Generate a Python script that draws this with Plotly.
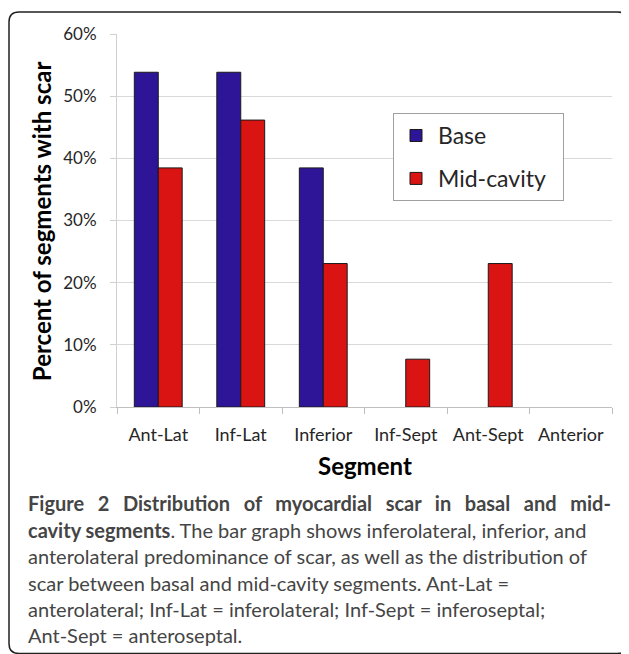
import plotly.graph_objects as go

# ---------------- data ----------------
segments = ["Ant-Lat", "Inf-Lat", "Inferior", "Inf-Sept", "Ant-Sept", "Anterior"]
base_vals = [7/13, 7/13, 5/13, 0, 0, 0]
mid_vals = [5/13, 6/13, 3/13, 1/13, 3/13, 0]
series_names = ["Base", "Mid-cavity"]
y_ticks = [0, 0.1, 0.2, 0.3, 0.4, 0.5, 0.6]

caption_lines = [
    "<b>Figure 2 Distribution of myocardial scar in basal and mid-</b>",
    "<b>cavity segments</b>. The bar graph shows inferolateral, inferior, and",
    "anterolateral predominance of scar, as well as the distribution of",
    "scar between basal and mid-cavity segments. Ant-Lat =",
    "anterolateral; Inf-Lat = inferolateral; Inf-Sept = inferoseptal;",
    "Ant-Sept = anteroseptal.",
]

# ---------------- layout geometry (screen pixels) ----------------
OFF = 8                      # default page margin of the html body
W, H = 629 - OFF, 654 - OFF  # figure size
L, R, T, B = 117, 612, 34, 406.7   # plot area on screen


def px(x):
    return (x - L) / (R - L)


def py(y):
    return (B - y) / (B - T)


FONT = "Lato"
BLUE = "#2E1598"
RED = "#DA1313"


def outline(vals):
    return [1 if v > 0 else 0 for v in vals]


fig = go.Figure()
fig.add_trace(go.Bar(
    x=segments, y=base_vals, name=series_names[0] + "\u2002", legendgroup="a",
    marker=dict(color=BLUE, line=dict(color="#1a1a1a", width=outline(base_vals))),
))
fig.add_trace(go.Bar(
    x=segments, y=mid_vals, name=series_names[1] + "\u2002", legendgroup="b",
    marker=dict(color=RED, line=dict(color="#1a1a1a", width=outline(mid_vals))),
))

fig.update_layout(
    width=W, height=H,
    margin=dict(l=L - OFF, r=W - (R - OFF), t=T - OFF, b=H - (B - OFF),
                autoexpand=False),
    paper_bgcolor="white", plot_bgcolor="white",
    barmode="group", bargap=0.42, bargroupgap=0,
    font=dict(family=FONT, color="#3a3a3a"),
    showlegend=True,
    legend=dict(
        x=px(393), y=py(113), xanchor="left", yanchor="top",
        bordercolor="#a0a0a0", borderwidth=1, bgcolor="white",
        font=dict(family=FONT, size=23, color="#262626"),
        tracegroupgap=10, itemwidth=34,
    ),
)

fig.update_xaxes(
    type="category", tickson="boundaries", ticks="outside", ticklen=6,
    tickcolor="#bfbfbf", showline=True, linecolor="#bfbfbf", linewidth=1,
    showgrid=False, tickfont=dict(family=FONT, size=18, color="#262626"),
    tickangle=0, ticklabelstandoff=11,
)
fig.update_yaxes(
    range=[0, 0.6], tickvals=y_ticks, tickformat=".0%", ticks="outside",
    ticklen=6, tickcolor="#d0d0d0", showline=True, linecolor="#d0d0d0",
    gridcolor="#d9d9d9", gridwidth=1, zeroline=False,
    tickfont=dict(family=FONT, size=17, color="#262626"),
    ticklabelstandoff=10,
)

annotations = [
    dict(text="<b>Percent of segments with scar</b>", textangle=-90,
         x=px(41), y=py(221), xref="paper", yref="paper", showarrow=False,
         xanchor="center", yanchor="middle",
         font=dict(family=FONT, size=24, color="#000000")),
    dict(text="<b>Segment</b>", x=px(364.5), y=py(465), xref="paper",
         yref="paper", showarrow=False, xanchor="center", yanchor="middle",
         font=dict(family=FONT, size=24, color="#000000")),
]
for i, line in enumerate(caption_lines):
    if i == 0:
        line = line.replace(" ", " \u2009\u2009\u2009\u200a")
    annotations.append(dict(
        text=line, x=px(26), y=py(503 + i * 26.4), xref="paper", yref="paper",
        showarrow=False, xanchor="left", yanchor="middle", align="left",
        font=dict(family=FONT, size=20, color="#454545"),
    ))
fig.update_layout(annotations=annotations)

# rounded frame around the figure
x0, x1, y0, y1, r = 9, 627.5, 12, 653, 10
path = (
    f"M {px(x0 + r)},{py(y0)} L {px(x1 - r)},{py(y0)} "
    f"Q {px(x1)},{py(y0)} {px(x1)},{py(y0 + r)} "
    f"L {px(x1)},{py(y1 - r)} Q {px(x1)},{py(y1)} {px(x1 - r)},{py(y1)} "
    f"L {px(x0 + r)},{py(y1)} Q {px(x0)},{py(y1)} {px(x0)},{py(y1 - r)} "
    f"L {px(x0)},{py(y0 + r)} Q {px(x0)},{py(y0)} {px(x0 + r)},{py(y0)} Z"
)
fig.add_shape(type="path", path=path, xref="paper", yref="paper",
              line=dict(color="#231f20", width=1.5), layer="above")

fig.write_html("out.html")
